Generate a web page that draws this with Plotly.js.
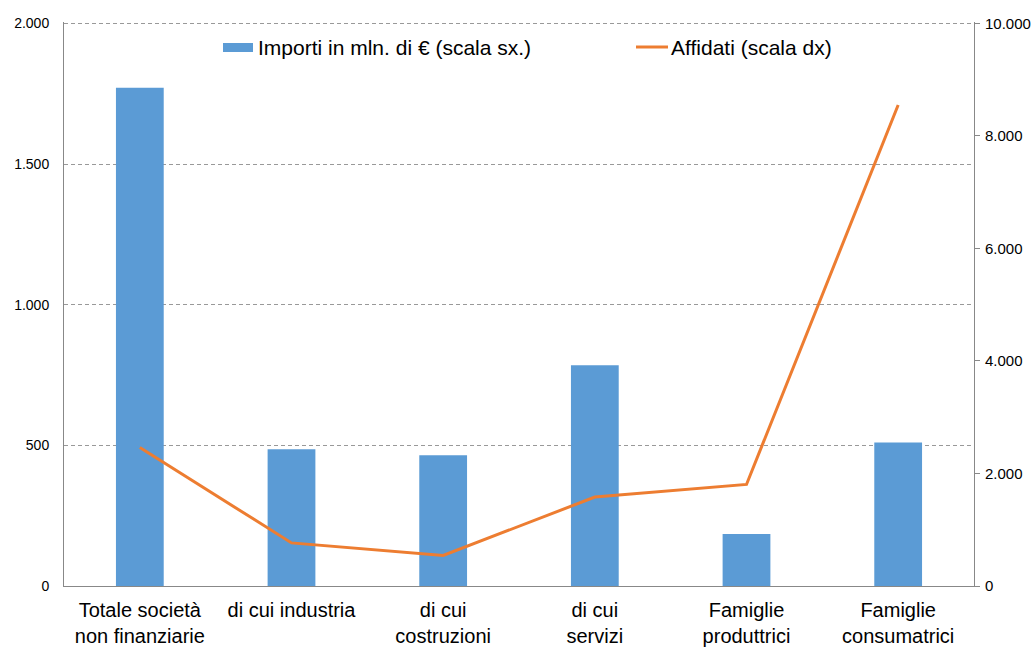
<!DOCTYPE html>
<html>
<head>
<meta charset="utf-8">
<script src="https://cdn.plot.ly/plotly-3.0.1.min.js"></script>
<style>html,body{margin:0;padding:0;background:#fff;}#chart{width:1035px;height:648px;}</style>
</head>
<body>
<div id="chart"></div>
<script>
const categories = [
  "Totale società<br>non finanziarie",
  "di cui industria",
  "di cui<br>costruzioni",
  "di cui<br>servizi",
  "Famiglie<br>produttrici",
  "Famiglie<br>consumatrici"
];
const importi = [1771, 486, 465, 785, 185, 510];
const affidati = [2460, 766, 543, 1581, 1805, 8550];
const seriesNames = ["Importi in mln. di € (scala sx.)", "Affidati (scala dx)"];

const font = "Liberation Sans, Arial, sans-serif";
const barColor = "#5B9BD5";
const lineColor = "#ED7D31";

// plot area in pixels: x 64..974, y 22..586
const px = v => (v - 64) / 910;
const py = v => (586 - v) / 564;

const traces = [
  {
    type: "bar",
    x: categories,
    y: importi,
    name: seriesNames[0],
    marker: {color: barColor},
    yaxis: "y"
  },
  {
    type: "scatter",
    mode: "lines",
    x: categories,
    y: affidati,
    name: seriesNames[1],
    line: {color: lineColor, width: 3},
    yaxis: "y2"
  }
];

const layout = {
  width: 1035,
  height: 648,
  margin: {l: 64, r: 61, t: 22, b: 62},
  paper_bgcolor: "#fff",
  plot_bgcolor: "#fff",
  separators: ",.",
  bargap: 0.685,
  showlegend: false,
  font: {family: font, color: "#000"},
  xaxis: {
    showline: true,
    linecolor: "#888",
    linewidth: 1,
    ticks: "",
    tickfont: {family: font, size: 20, color: "#000"},
    ticklabelstandoff: 6,
    fixedrange: true
  },
  yaxis: {
    range: [0, 2005],
    tick0: 0,
    dtick: 500,
    tickformat: ",d",
    showgrid: true,
    gridcolor: "#999",
    griddash: "4px,3px",
    gridwidth: 1,
    zeroline: false,
    showline: true,
    linecolor: "#888",
    ticks: "",
    tickfont: {family: font, size: 14, color: "#000"},
    ticklabelstandoff: 11
  },
  yaxis2: {
    range: [0, 10025],
    tick0: 0,
    dtick: 2000,
    tickformat: ",d",
    overlaying: "y",
    side: "right",
    showgrid: false,
    zeroline: false,
    showline: true,
    linecolor: "#888",
    ticks: "outside",
    ticklen: 5,
    tickcolor: "#888",
    tickfont: {family: font, size: 15, color: "#000"},
    ticklabelstandoff: 2
  },
  shapes: [
    {type: "rect", xref: "paper", yref: "paper",
     x0: px(223), x1: px(253), y0: py(52), y1: py(43),
     fillcolor: barColor, line: {width: 0}},
    {type: "line", xref: "paper", yref: "paper",
     x0: px(636), x1: px(668), y0: py(47), y1: py(47),
     line: {color: lineColor, width: 3}}
  ],
  annotations: [
    {xref: "paper", yref: "paper", x: px(256), y: py(47),
     xanchor: "left", yanchor: "middle", showarrow: false,
     text: seriesNames[0], font: {family: font, size: 21, color: "#000"}},
    {xref: "paper", yref: "paper", x: px(669), y: py(47),
     xanchor: "left", yanchor: "middle", showarrow: false,
     text: seriesNames[1], font: {family: font, size: 21, color: "#000"}}
  ]
};

Plotly.newPlot("chart", traces, layout, {displayModeBar: false, staticPlot: true});
</script>
</body>
</html>
